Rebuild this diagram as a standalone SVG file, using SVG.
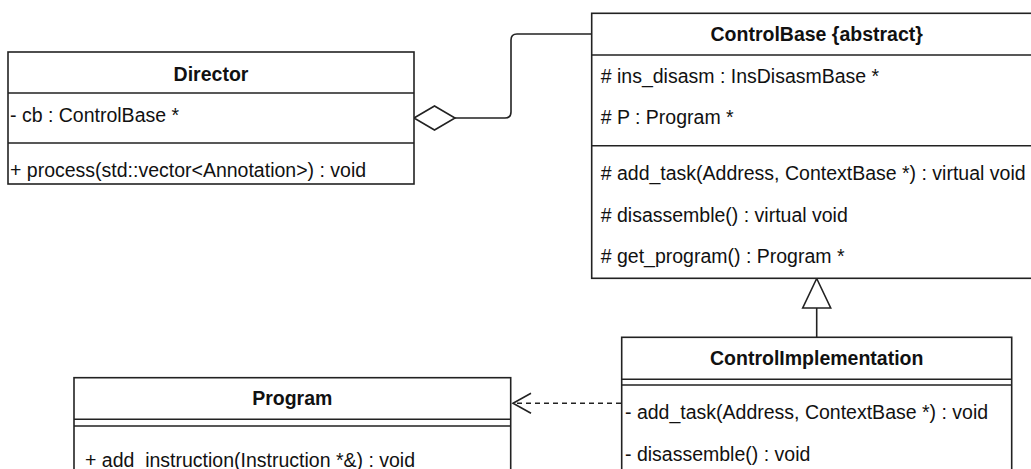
<svg xmlns="http://www.w3.org/2000/svg" width="1031" height="469" viewBox="0 0 1031 469">
<style>
.box{fill:#fff;stroke:#222;stroke-width:1.6}
.ln{stroke:#222;stroke-width:1.6;fill:none}
.t{font-family:"Liberation Sans",Arial,sans-serif;font-size:19.5px;fill:#111}
.h{font-family:"Liberation Sans",Arial,sans-serif;font-size:19.5px;font-weight:bold;fill:#111;text-anchor:middle}
</style>
<defs>
<marker id="open" viewBox="0 0 20 22" refX="19" refY="11" markerWidth="20" markerHeight="22" markerUnits="userSpaceOnUse" orient="auto" overflow="visible">
<path d="M1,1 L19,11 L1,21" fill="none" stroke="#222" stroke-width="1.6"/>
</marker>
</defs>
<g id="connectors">
<path class="ln" d="M455,118 H505 Q511,118 511,112 V40 Q511,34 517,34 H592"/>
<path d="M414,118 L434.5,106 L455,118 L434.5,130 Z" fill="#fff" stroke="#222" stroke-width="1.6"/>
<path class="ln" d="M816.7,308 V337"/>
<path d="M816.7,278.5 L830.7,308 L802.7,308 Z" fill="#fff" stroke="#222" stroke-width="1.6"/>
<path class="ln" d="M621,403.3 H513" stroke-dasharray="5,4" marker-end="url(#open)"/>
</g>
<g id="Director">
<rect class="box" x="8" y="52" width="406" height="132"/>
<path class="ln" d="M8,93 H414 M8,143 H414"/>
<text class="h" x="211" y="81">Director</text>
<text class="t" x="10" y="122">- cb : ControlBase *</text>
<text class="t" x="10" y="177">+ process(std::vector&lt;Annotation&gt;) : void</text>
</g>
<g id="ControlBase">
<rect class="box" x="591.7" y="13.3" width="450" height="265"/>
<path class="ln" d="M591.7,55 H1040 M591.7,145.7 H1040"/>
<text class="h" x="816.7" y="41">ControlBase {abstract}</text>
<text class="t" x="600.7" y="83"># ins_disasm : InsDisasmBase *</text>
<text class="t" x="600.7" y="124"># P : Program *</text>
<text class="t" x="600.7" y="180"># add_task(Address, ContextBase *) : virtual void</text>
<text class="t" x="600.7" y="222"># disassemble() : virtual void</text>
<text class="t" x="600.7" y="263"># get_program() : Program *</text>
</g>
<g id="ControlImplementation">
<rect class="box" x="621.7" y="337.3" width="390" height="150"/>
<path class="ln" d="M621.7,379.3 H1011.7 M621.7,385 H1011.7"/>
<text class="h" x="816.7" y="365">ControlImplementation</text>
<text class="t" x="625" y="419">- add_task(Address, ContextBase *) : void</text>
<text class="t" x="625" y="461">- disassemble() : void</text>
</g>
<g id="Program">
<rect class="box" x="74" y="377.7" width="436.7" height="110"/>
<path class="ln" d="M74,419.3 H510.7 M74,426 H510.7"/>
<text class="h" x="292.3" y="405">Program</text>
<text class="t" x="85" y="467">+ add_instruction(Instruction *&amp;) : void</text>
</g>
</svg>
